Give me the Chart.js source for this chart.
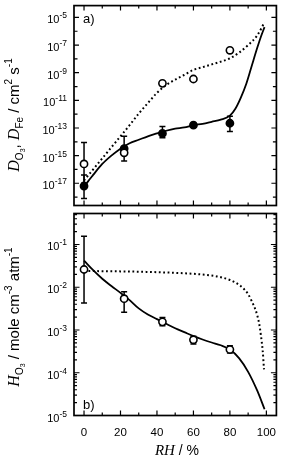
<!DOCTYPE html>
<html>
<head>
<meta charset="utf-8">
<script src="https://cdn.jsdelivr.net/npm/chart.js@4.4.1/dist/chart.umd.min.js"></script>
<style>
  html, body { margin: 0; padding: 0; background: #fff; }
  #wrap { position: relative; width: 282px; height: 465px; }
  canvas { position: absolute; left: 0; top: 0; }
</style>
</head>
<body>
<div id="wrap">
  <canvas id="topChart" width="282" height="465"></canvas>
  <canvas id="bottomChart" width="282" height="465"></canvas>
</div>
<script>
// measured points, RH in %
const rh = [0, 22, 43, 60, 80];

// panel a) diffusion coefficients
const dO3 = [2.5e-16, 1.6e-15, 1.7e-10, 3.5e-10, 4.2e-8];
const dO3Err = [[1e-17, 9e-15], null, null, null, [3.2e-8, 5.5e-8]];
const dFe = [6.3e-18, 3.2e-15, 4e-14, 1.6e-13, 2.2e-13];
const dFeErr = [[8e-19, 4e-17], [4e-16, 2.5e-14], [2e-14, 1.26e-13], null, [5.5e-14, 7.2e-13]];

const fitRhO3 = [0, 5, 10, 15, 20, 25, 30, 35, 40, 45, 50, 55, 60, 65, 70, 75, 80, 85, 90, 95, 99];
const fitO3 = [1.6e-17, 1e-16, 6.3e-16, 4e-15, 2.5e-14, 1.6e-13, 1.1e-12, 6.3e-12, 3.5e-11, 1.26e-10,
  3.2e-10, 7e-10, 1.6e-9, 2.5e-9, 4e-9, 6.3e-9, 1.1e-8, 2.8e-8, 1e-7, 5e-7, 4.5e-6];

const fitRhFe = [0, 2, 5, 10, 15, 20, 25, 30, 35, 40, 45, 50, 55, 60, 65, 70, 75, 80, 83, 86, 89, 92, 95, 97, 99];
const fitFe = [5e-18, 1.26e-17, 4e-17, 2.5e-16, 1e-15, 3.2e-15, 7.9e-15, 1.4e-14, 2.5e-14, 4e-14, 6.3e-14,
  8.9e-14, 1.1e-13, 1.6e-13, 2e-13, 2.8e-13, 4e-13, 7.9e-13, 2.5e-12, 1.6e-11, 1.6e-10, 3.2e-9, 6.3e-8, 4e-7, 2e-6];

// panel b) Henry's law coefficient
const hO3 = [0.026, 0.0054, 0.00155, 5.9e-4, 3.5e-4];
const hO3Err = [[0.0043, 0.155], [0.0026, 0.0078], [0.00126, 0.00195], [4.7e-4, 7.1e-4], [2.9e-4, 4.3e-4]];

const fitRhH = [0, 5, 10, 15, 20, 25, 30, 35, 40, 45, 50, 55, 60, 65, 70, 75, 80, 85, 90, 95, 99];
const fitH = [0.042, 0.025, 0.0158, 0.0107, 0.0074, 0.005, 0.0032, 0.0023, 0.0018, 0.0014, 0.0011,
  8.9e-4, 7.2e-4, 6e-4, 5.1e-4, 4.4e-4, 3.5e-4, 2.2e-4, 1.05e-4, 3.8e-5, 1.4e-5];

const fitRhHDot = [0, 20, 40, 60, 70, 75, 80, 83, 86, 88, 90, 92, 94, 95, 96, 97, 98, 98.7];
const fitHDot = [0.024, 0.0235, 0.0225, 0.0206, 0.0188, 0.0172, 0.0148, 0.0129, 0.0106, 0.0088, 0.0069,
  0.0047, 0.003, 0.0022, 0.00145, 7.5e-4, 3.2e-4, 1.2e-4];

// axis ticks
const xTicks = [0, 20, 40, 60, 80, 100];
const topExpLabels = [-17, -15, -13, -11, -9, -7, -5];
const bottomExpLabels = [-5, -4, -3, -2, -1];

const SANS = '"Liberation Sans", Arial, sans-serif';
const SERIF = '"Liberation Serif", "Times New Roman", serif';

function pts(xs, ys) {
    return xs.map((x, i) => ({ x: x, y: ys[i] }));
}

function drawRuns(ctx, runs, x, y, align) {
    let total = 0;
    runs.forEach(r => { ctx.font = r.f; total += ctx.measureText(r.t).width; });
    let cx = align === 'right' ? x - total : (align === 'center' ? x - total / 2 : x);
    ctx.textBaseline = 'alphabetic';
    ctx.textAlign = 'left';
    runs.forEach(r => {
        ctx.font = r.f;
        ctx.fillText(r.t, cx, y + (r.dy || 0));
        cx += ctx.measureText(r.t).width;
    });
}

function pow10Label(e) {
    return [
        { t: '10', f: '11px ' + SANS },
        { t: String(e), f: '8.5px ' + SANS, dy: -5 }
    ];
}

const errorBars = {
    id: 'errorBars',
    beforeDatasetsDraw(chart, args, opts) {
        const ctx = chart.ctx;
        const xs = chart.scales.x, ys = chart.scales.y;
        ctx.save();
        ctx.strokeStyle = '#000';
        ctx.lineWidth = 1.5;
        opts.sets.forEach(set => {
            set.err.forEach((e, i) => {
                if (!e) return;
                const px = xs.getPixelForValue(set.x[i]);
                const lo = ys.getPixelForValue(e[0]);
                const hi = ys.getPixelForValue(e[1]);
                ctx.beginPath();
                ctx.moveTo(px, lo); ctx.lineTo(px, hi);
                ctx.moveTo(px - 3, lo); ctx.lineTo(px + 3, lo);
                ctx.moveTo(px - 3, hi); ctx.lineTo(px + 3, hi);
                ctx.stroke();
            });
        });
        ctx.restore();
    }
};

const frame = {
    id: 'frame',
    afterDraw(chart, args, opts) {
        const ctx = chart.ctx;
        const a = chart.chartArea;
        const xs = chart.scales.x, ys = chart.scales.y;
        ctx.save();
        ctx.strokeStyle = '#000';
        ctx.fillStyle = '#000';
        ctx.lineWidth = 1.2;
        ctx.beginPath();
        // x ticks on top and bottom edges
        for (let v = 0; v <= 100; v += 10) {
            const px = xs.getPixelForValue(v);
            const len = v % 20 === 0 ? 5 : 3;
            ctx.moveTo(px, a.top); ctx.lineTo(px, a.top + len);
            ctx.moveTo(px, a.bottom); ctx.lineTo(px, a.bottom - len);
        }
        // y ticks on left and right edges
        opts.yTicks.forEach(t => {
            const py = ys.getPixelForValue(t.v);
            if (py < a.top + 1 || py > a.bottom - 1) return;
            ctx.moveTo(a.left, py); ctx.lineTo(a.left + t.len, py);
            ctx.moveTo(a.right, py); ctx.lineTo(a.right - t.len, py);
        });
        ctx.stroke();
        ctx.lineWidth = 1.7;
        ctx.strokeRect(a.left, a.top, a.right - a.left, a.bottom - a.top);

        // y tick labels
        opts.yLabels.forEach(e => {
            const py = ys.getPixelForValue(Math.pow(10, e));
            drawRuns(ctx, pow10Label(e), 67, py + 6, 'right');
        });
        // x tick labels
        if (opts.xLabels) {
            ctx.font = '11.5px ' + SANS;
            ctx.textAlign = 'center';
            ctx.textBaseline = 'middle';
            xTicks.forEach(v => ctx.fillText(String(v), xs.getPixelForValue(v), a.bottom + 17));
            drawRuns(ctx, [
                { t: 'RH', f: 'italic 15px ' + SERIF },
                { t: ' / %', f: '14px ' + SANS }
            ], 177, 455, 'center');
        }
        // panel letter
        ctx.font = '13px ' + SANS;
        ctx.textAlign = 'left';
        ctx.textBaseline = 'middle';
        ctx.fillText(opts.panel, a.left + 9, opts.panelY);

        // rotated y title
        ctx.translate(19, opts.titleY);
        ctx.rotate(-Math.PI / 2);
        drawRuns(ctx, opts.title, 0, 0, 'center');
        ctx.restore();
    }
};

function topTicks() {
    const list = [];
    for (let e = -18; e <= -5; e++) {
        list.push({ v: Math.pow(10, e), len: e % 2 !== 0 ? 5 : 3.5 });
    }
    return list;
}

function bottomTicks() {
    const list = [];
    for (let e = -5; e <= -1; e++) {
        for (let m = 1; m <= 9; m++) {
            list.push({ v: m * Math.pow(10, e), len: m === 1 ? 5.5 : 3 });
        }
    }
    return list;
}

const pointSet = (label, xs, ys, filled) => ({
    type: 'scatter',
    label: label,
    data: pts(xs, ys),
    pointRadius: 3.6,
    pointBorderWidth: 1.6,
    pointBorderColor: '#000',
    pointBackgroundColor: filled ? '#000' : '#fff',
    showLine: false,
    order: 0
});

const lineSet = (label, xs, ys, dotted) => ({
    type: 'line',
    label: label,
    data: pts(xs, ys),
    borderColor: '#000',
    borderWidth: dotted ? 2 : 1.8,
    borderDash: dotted ? [1.8, 2.6] : [],
    pointRadius: 0,
    cubicInterpolationMode: 'monotone',
    fill: false,
    order: 1
});

function baseOptions(padding, yMin, yMax, extra) {
    return {
        responsive: false,
        animation: false,
        devicePixelRatio: 1,
        layout: { padding: padding },
        plugins: {
            legend: { display: false },
            tooltip: { enabled: false },
            errorBars: extra.errorBars,
            frame: extra.frame
        },
        scales: {
            x: { type: 'linear', min: -5.5, max: 105.5, display: false },
            y: { type: 'logarithmic', min: yMin, max: yMax, display: false }
        }
    };
}

new Chart(document.getElementById('topChart'), {
    data: {
        datasets: [
            pointSet('DO3', rh, dO3, false),
            pointSet('DFe', rh, dFe, true),
            lineSet('DO3 fit', fitRhO3, fitO3, true),
            lineSet('DFe fit', fitRhFe, fitFe, false)
        ]
    },
    options: baseOptions({ left: 74, top: 3, right: 2.5, bottom: 259.5 }, 2.45e-19, 7.2e-5, {
        errorBars: { sets: [{ x: rh, err: dO3Err }, { x: rh, err: dFeErr }] },
        frame: {
            yTicks: topTicks(),
            yLabels: topExpLabels,
            xLabels: false,
            panel: 'a)',
            panelY: 19,
            titleY: 115,
            title: [
                { t: 'D', f: 'italic 16px ' + SERIF },
                { t: 'O', f: '10px ' + SANS, dy: 4 },
                { t: '3', f: '7px ' + SANS, dy: 6 },
                { t: ', ', f: '15px ' + SANS },
                { t: 'D', f: 'italic 16px ' + SERIF },
                { t: 'Fe', f: '10px ' + SANS, dy: 4 },
                { t: ' / cm', f: '15px ' + SANS },
                { t: '2', f: '10px ' + SANS, dy: -7 },
                { t: ' s', f: '15px ' + SANS },
                { t: '-1', f: '10px ' + SANS, dy: -7 }
            ]
        }
    }),
    plugins: [errorBars, frame]
});

new Chart(document.getElementById('bottomChart'), {
    data: {
        datasets: [
            pointSet('HO3', rh, hO3, false),
            lineSet('HO3 fit', fitRhH, fitH, false),
            lineSet('HO3 dotted', fitRhHDot, fitHDot, true)
        ]
    },
    options: baseOptions({ left: 74, top: 213.5, right: 2.5, bottom: 49.5 }, 1e-5, 0.531, {
        errorBars: { sets: [{ x: rh, err: hO3Err }] },
        frame: {
            yTicks: bottomTicks(),
            yLabels: bottomExpLabels,
            xLabels: true,
            panel: 'b)',
            panelY: 405,
            titleY: 317,
            title: [
                { t: 'H', f: 'italic 16px ' + SERIF },
                { t: 'O', f: '10px ' + SANS, dy: 4 },
                { t: '3', f: '7px ' + SANS, dy: 6 },
                { t: ' / mole cm', f: '15px ' + SANS },
                { t: '-3', f: '10px ' + SANS, dy: -7 },
                { t: ' atm', f: '15px ' + SANS },
                { t: '-1', f: '10px ' + SANS, dy: -7 }
            ]
        }
    }),
    plugins: [errorBars, frame]
});
</script>
</body>
</html>
